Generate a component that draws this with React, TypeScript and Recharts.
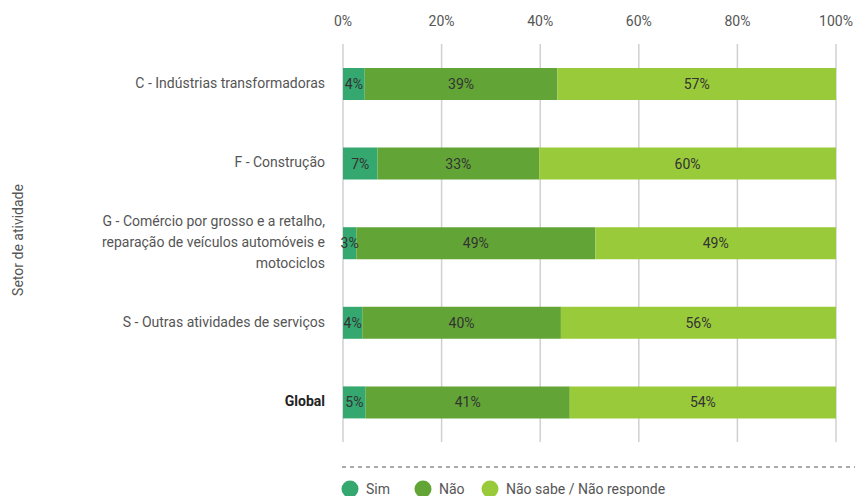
import { Bar, BarChart, CartesianGrid, LabelList, XAxis, YAxis } from "recharts";

const categories = [
  "C - Indústrias transformadoras",
  "F - Construção",
  "G - Comércio por grosso e a retalho,\nreparação de veículos automóveis e\nmotociclos",
  "S - Outras atividades de serviços",
  "Global",
];

const sim = [4.4, 7.0, 2.7, 3.9, 4.6];
const nao = [39.1, 32.8, 48.5, 40.3, 41.4];
const naoSabe = [56.5, 60.2, 48.8, 55.8, 54.0];

const xTicks = [0, 20, 40, 60, 80, 100];

const series = [
  { key: "sim", name: "Sim", color: "#35a870" },
  { key: "nao", name: "Não", color: "#62a536" },
  { key: "naoSabe", name: "Não sabe / Não responde", color: "#99ca3a" },
];

const data = categories.map((setor, i) => ({
  setor,
  sim: sim[i],
  nao: nao[i],
  naoSabe: naoSabe[i],
}));

const FONT = "Roboto, 'DejaVu Sans', sans-serif";

function SectorTick(props: any) {
  const { x, y, payload } = props;
  const lines = String(payload.value).split("\n");
  const isGlobal = payload.value === "Global";
  const lh = 21;
  const startY = y - ((lines.length - 1) * lh) / 2 - 1;
  return (
    <text
      x={x}
      y={startY}
      textAnchor="end"
      dominantBaseline="central"
      fontFamily={FONT}
      fontSize={14}
      fontWeight={isGlobal ? 700 : 400}
      fill={isGlobal ? "#222" : "#555"}
    >
      {lines.map((l, i) => (
        <tspan key={i} x={x} y={startY + i * lh}>
          {l}
        </tspan>
      ))}
    </text>
  );
}

function YLabel(props: any) {
  const vb = props.viewBox || {};
  const cy = vb.y + vb.height / 2 - 3;
  return (
    <text
      x={18}
      y={cy}
      transform={`rotate(-90, 18, ${cy})`}
      textAnchor="middle"
      dominantBaseline="central"
      fontFamily={FONT}
      fontSize={14}
      fill="#555"
    >
      Setor de atividade
    </text>
  );
}

export default function App() {
  return (
    <div
      style={{
        position: "absolute",
        left: 0,
        top: 0,
        width: 855,
        height: 498,
        overflow: "hidden",
        background: "#fff",
      }}
    >
      <BarChart
        width={855}
        height={498}
        data={data}
        layout="vertical"
        margin={{ top: 0, right: 19, left: 0, bottom: 56 }}
        barSize={32}
      >
        <CartesianGrid horizontal={false} stroke="#d0d0d0" strokeWidth={1.5} />
        <XAxis
          type="number"
          orientation="top"
          domain={[0, 100]}
          ticks={xTicks}
          tickFormatter={(v) => `${v}%`}
          axisLine={false}
          tickLine={false}
          tickMargin={12}
          height={44}
          tick={{ fontFamily: FONT, fontSize: 14, fill: "#555" }}
        />
        <YAxis
          type="category"
          dataKey="setor"
          width={343}
          axisLine={false}
          tickLine={false}
          tickMargin={12}
          interval={0}
          tick={<SectorTick />}
          label={<YLabel />}
        />
        {series.map((s) => (
          <Bar
            key={s.key}
            dataKey={s.key}
            name={s.name}
            stackId="a"
            fill={s.color}
            isAnimationActive={false}
          >
            <LabelList
              dataKey={s.key}
              position="center"
              formatter={(v: any) => `${Math.round(Number(v))}%`}
              style={{ fontFamily: FONT, fontSize: 14, fill: "#333" }}
            />
          </Bar>
        ))}
      </BarChart>
      <svg
        width={855}
        height={50}
        style={{ position: "absolute", left: 0, top: 446 }}
      >
        <line x1={342} x2={855} y1={21} y2={21} stroke="#555" strokeDasharray="4 4" />
        {series.map((s, i) => {
          const cx = [350, 423, 490][i];
          return (
            <g key={s.key}>
              <circle cx={cx} cy={43} r={8.5} fill={s.color} />
              <text
                x={cx + 16}
                y={43}
                dominantBaseline="central"
                fontFamily={FONT}
                fontSize={14}
                fill="#555"
              >
                {s.name}
              </text>
            </g>
          );
        })}
      </svg>
    </div>
  );
}
